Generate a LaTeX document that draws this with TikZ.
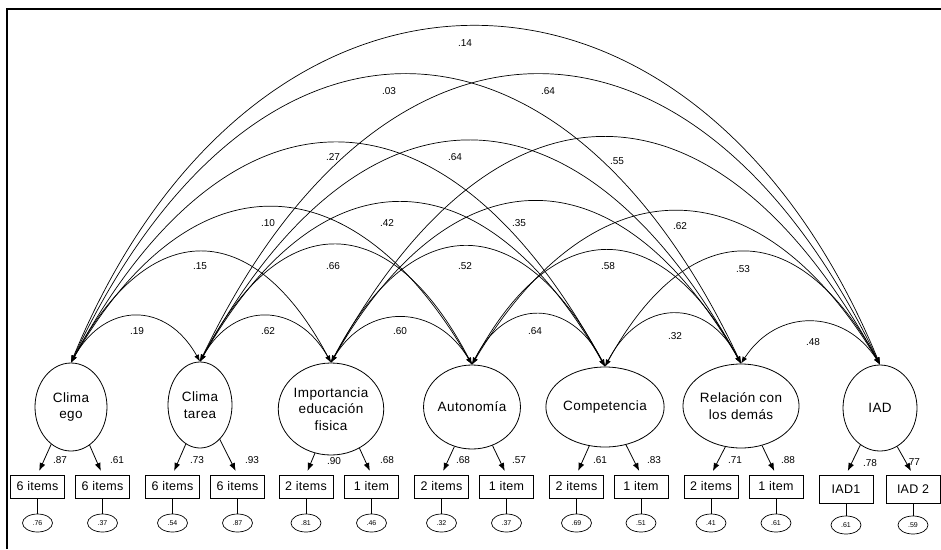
\documentclass[tikz,border=0pt]{standalone}
\usepackage{fontspec}
\setmainfont{Liberation Sans}
\usetikzlibrary{shapes.geometric,arrows.meta}
\begin{document}
\begin{tikzpicture}[x=1pt,y=-1pt,
  latent/.style={ellipse,draw,line width=0.8pt,inner sep=0pt,align=center,font=\fontsize{13.5}{16.5}\selectfont\addfontfeature{LetterSpace=3}},
  obs/.style={rectangle,draw,line width=0.8pt,minimum width=54pt,minimum height=23pt,inner sep=0pt,font=\fontsize{12.5}{14}\selectfont\addfontfeature{LetterSpace=2}},
  obsb/.style={obs,minimum height=28pt},
  err/.style={ellipse,draw,line width=0.7pt,minimum width=30pt,minimum height=18pt,inner sep=0pt,font=\fontsize{7}{8}\selectfont},
  load/.style={-{Latex[length=8pt,width=6pt]},line width=0.8pt,shorten >=4pt},
  cov/.style={{Latex[length=7pt,width=5pt]}-{Latex[length=7pt,width=5pt]},line width=0.7pt},
  lab/.style={font=\fontsize{10}{11}\selectfont,inner sep=1pt},
  elink/.style={line width=0.7pt}]
\useasboundingbox (0,0) rectangle (941,549);
% frame
\draw[line width=1.2pt] (7,549) -- (7,9) -- (941,9);

% latent variables
\node[latent,minimum width=72pt,minimum height=88pt] (E) at (71,407) {Clima\\ego};
\node[latent,minimum width=64pt,minimum height=86pt] (T) at (200,405) {Clima\\tarea};
\node[latent,minimum width=84pt,minimum height=92pt] (I) at (331,409) {Importancia\\educación\\fisica};
\node[latent,minimum width=80pt,minimum height=84pt] (A) at (472,407) {Autonomía};
\node[latent,minimum width=92pt,minimum height=80pt] (C) at (605,407) {Competencia};
\node[latent,minimum width=92pt,minimum height=84pt] (R) at (741,406) {Relación con\\los demás};
\node[latent,minimum width=74pt,minimum height=86pt] (D) at (880,408) {IAD};

% observed indicators
\node[obs] (b1) at (37.5,486.5) {6 items};
\node[obs] (b2) at (102.5,486.5) {6 items};
\node[obs] (b3) at (172.5,486.5) {6 items};
\node[obs] (b4) at (237.5,486.5) {6 items};
\node[obs] (b5) at (306,486.5) {2 items};
\node[obs] (b6) at (371.5,486.5) {1 item};
\node[obs] (b7) at (441.5,486.5) {2 items};
\node[obs] (b8) at (506.5,486.5) {1 item};
\node[obs] (b9) at (576.5,486.5) {2 items};
\node[obs] (b10) at (641,486.5) {1 item};
\node[obs] (b11) at (711,486.5) {2 items};
\node[obs] (b12) at (776,486.5) {1 item};
\node[obsb] (b13) at (846,489) {IAD1};
\node[obsb] (b14) at (913,489) {IAD 2};

% error terms
\foreach \i/\v/\y in {1/.76/523,2/.37/523,3/.54/523,4/.87/523,5/.81/523,6/.46/523,7/.32/523,8/.37/523,9/.69/523,10/.51/523,11/.41/523,12/.61/523,13/.61/525,14/.59/525}{
  \node[err] (e\i) at (b\i |- 0,\y) {\v};
  \draw[elink] (b\i.south) -- (e\i.north);
}

% loadings
\draw[load] (E.242) -- (b1.north);
\draw[load] (E.296) -- (b2.north);
\draw[load] (T.250) -- (b3.north);
\draw[load] (T.300) -- (b4.north);
\draw[load] (I.250) -- (b5.north);
\draw[load] (I.306) -- (b6.north);
\draw[load] (A.246) -- (b7.north);
\draw[load] (A.298) -- (b8.north);
\draw[load] (C.248) -- (b9.north);
\draw[load] (C.299) -- (b10.north);
\draw[load] (R.249) -- (b11.north);
\draw[load] (R.298) -- (b12.north);
\draw[load] (D.242) -- (b13.north);
\draw[load] (D.294) -- (b14.north);

\node[lab] (l1) at (60,460) {.87};
\node[lab] (l2) at (117,460) {.61};
\node[lab] (l3) at (197,460) {.73};
\node[lab] (l4) at (252,460) {.93};
\node[lab] (l5) at (334,461) {.90};
\node[lab] (l6) at (387,460) {.68};
\node[lab] (l7) at (463,460) {.68};
\node[lab] (l8) at (519,460) {.57};
\node[lab] (l9) at (600,460) {.61};
\node[lab] (l10) at (654,460) {.83};
\node[lab] (l11) at (735,460) {.71};
\node[lab] (l12) at (788,460) {.88};
\node[lab] (l13) at (870,463) {.78};
\node[lab] (l14) at (913,462) {.77};

% covariances
\foreach \p/\q/\d/\h in {E/T/34/61, T/I/34/61, I/A/36/61, A/C/34/68, C/R/35/68, R/D/36/56,
  E/I/78/147, T/A/82/157, I/C/82/157, A/R/81/151, C/D/83/151,
  E/A/120/208, T/C/122/215, I/R/123/215, A/D/122/204,
  E/C/160/295, T/R/162/295, I/D/165/301,
  E/R/181/384, T/D/184/384,
  E/D/186/449}{
  \draw[cov] (\p.north) .. controls +(\d,-\h) and +(-\d,-\h) .. (\q.north);
}

\node[lab] (c1) at (137,331) {.19};
\node[lab] (c2) at (268,331) {.62};
\node[lab] (c3) at (400,331) {.60};
\node[lab] (c4) at (535,331) {.64};
\node[lab] (c5) at (675,336) {.32};
\node[lab] (c6) at (813,342) {.48};
\node[lab] (c7) at (200,266) {.15};
\node[lab] (c8) at (333,266) {.66};
\node[lab] (c9) at (465,266) {.52};
\node[lab] (c10) at (608,266) {.58};
\node[lab] (c11) at (743,269) {.53};
\node[lab] (c12) at (268,223) {.10};
\node[lab] (c13) at (387,223) {.42};
\node[lab] (c14) at (519,223) {.35};
\node[lab] (c15) at (680,226) {.62};
\node[lab] (c16) at (333,157) {.27};
\node[lab] (c17) at (455,157) {.64};
\node[lab] (c18) at (617,161) {.55};
\node[lab] (c19) at (389,91) {.03};
\node[lab] (c20) at (548,91) {.64};
\node[lab] (c21) at (465,43) {.14};
\end{tikzpicture}
\end{document}
